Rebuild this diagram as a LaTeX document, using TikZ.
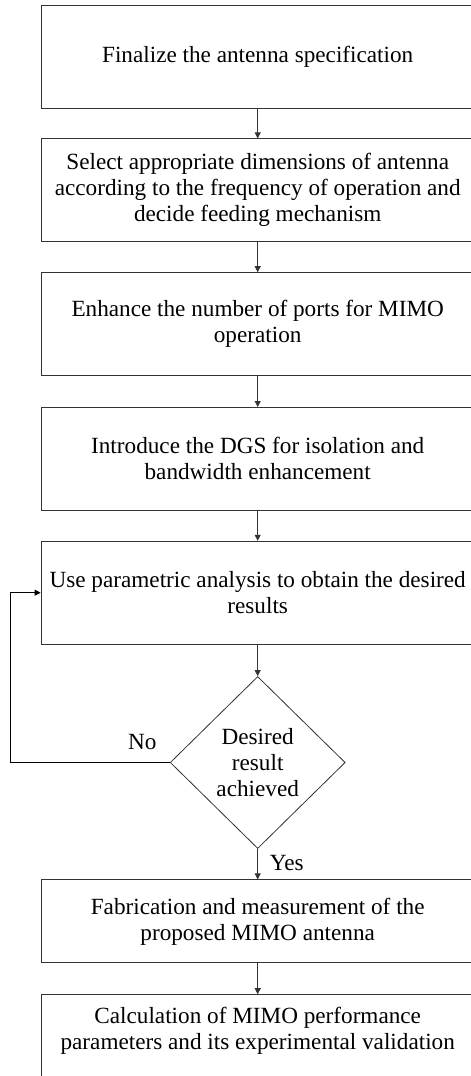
\documentclass[tikz,border=0pt]{standalone}
\usepackage{fontspec}
\setmainfont{Liberation Serif}
\usepackage{tikz}
\usetikzlibrary{positioning,shapes.geometric,arrows.meta}

\begin{document}
\begin{tikzpicture}[x=1pt,y=-1pt,font=\fontsize{23.2}{26}\selectfont,node distance=30pt,
		stage/.style={draw=black!80,line width=0.8pt,minimum width=433.4pt,minimum height=103pt,align=center,inner sep=2pt},
		check/.style={draw=black!80,line width=0.8pt,shape=diamond,minimum width=175pt,minimum height=172pt,inner sep=0pt,align=center},
		flow/.style={draw=black!80,line width=0.8pt,-{Triangle[length=6pt,width=6pt]}},
		tag/.style={inner sep=0pt}]
		\useasboundingbox (0,0) rectangle (471,1076);
		\node[stage] (spec) at (257.7,56.5) {Finalize the antenna specification};
		\node[stage,below=of spec] (dims) {Select appropriate dimensions of antenna\\according to the frequency of operation and\\decide feeding mechanism};
		\node[stage,below=of dims] (ports) {Enhance the number of ports for MIMO\\operation};
		\node[stage,below=31pt of ports] (dgs) {Introduce the DGS for isolation and\\bandwidth enhancement};
		\node[stage,below=of dgs] (param) {Use parametric analysis to obtain the desired\\results};
		\node[check,below=31.5pt of param] (dec) {Desired\\result\\achieved};
		\node[stage,minimum height=83pt,below=30.5pt of dec] (fab) {Fabrication and measurement of the\\proposed MIMO antenna};
		\node[stage,minimum height=93pt,below=31pt of fab] (calc) {Calculation of MIMO performance\\parameters and its experimental validation\\~};
		\coordinate (back) at (10,0);
		\node[tag,above left=13pt and 13pt of dec.west] (no) {No};
		\node[tag,below right=6pt and 12pt of dec.south] (yes) {Yes};
		\draw[flow] (spec) -- (dims);
		\draw[flow] (dims) -- (ports);
		\draw[flow] (ports) -- (dgs);
		\draw[flow] (dgs) -- (param);
		\draw[flow] (param) -- (dec);
		\draw[flow] (dec) -- (fab);
		\draw[flow] (fab) -- (calc);
		\draw[flow,draw=black] (dec.west) -- (dec.west -| back) |- (param.west);
\end{tikzpicture}
\end{document}
